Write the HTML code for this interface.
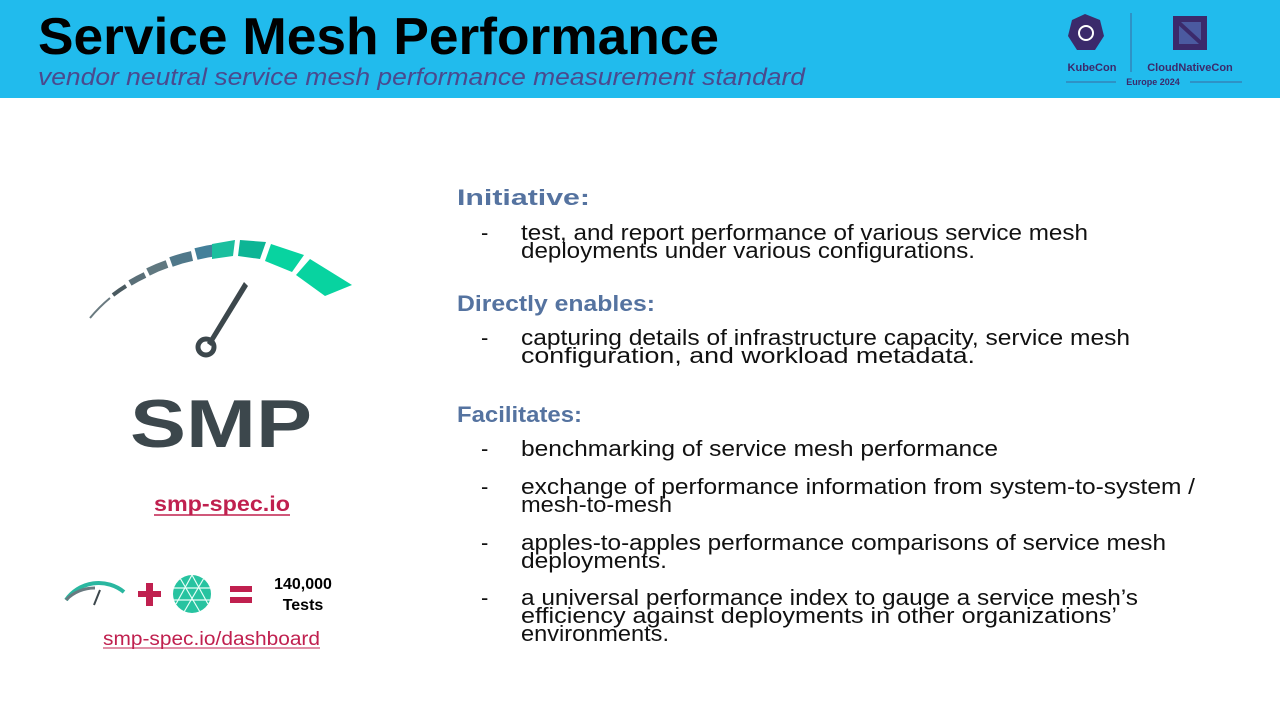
<!DOCTYPE html>
<html><head><meta charset="utf-8"><style>
html,body{margin:0;padding:0;background:#fff;}
svg{display:block}
text{font-family:"Liberation Sans",sans-serif;}
</style></head><body>
<svg width="1280" height="720" viewBox="0 0 1280 720" xmlns="http://www.w3.org/2000/svg">
<rect x="0" y="0" width="1280" height="98" fill="#21bbed"/>
<text x="38" y="54" font-size="52" font-weight="bold" fill="#000" textLength="681" lengthAdjust="spacingAndGlyphs">Service Mesh Performance</text>
<text x="38" y="85" font-size="24" font-style="italic" fill="#4a4a8e" textLength="767" lengthAdjust="spacingAndGlyphs">vendor neutral service mesh performance measurement standard</text>
<g fill="#3b2a6b">
<polygon points="1085,14 1100,20 1104,36 1095,50 1077,50 1068,36 1072,20"/>
<rect x="1173" y="16" width="34" height="34" fill="#3b2a6b"/>
<rect x="1179" y="22" width="22" height="22" fill="#4b5aa0"/>
<line x1="1178" y1="22" x2="1202" y2="44" stroke="#3b2a6b" stroke-width="4"/>
<text x="1092" y="71" font-size="11" font-weight="bold" text-anchor="middle">KubeCon</text>
<text x="1190" y="71" font-size="11" font-weight="bold" text-anchor="middle">CloudNativeCon</text>
<text x="1153" y="85" font-size="9" font-weight="bold" text-anchor="middle">Europe 2024</text>
</g>
<circle cx="1086" cy="33" r="7" fill="none" stroke="#fff" stroke-width="2"/>
<line x1="1131" y1="13" x2="1131" y2="72" stroke="#3b6aa0" stroke-width="1"/>
<line x1="1066" y1="82" x2="1116" y2="82" stroke="#3b6aa0" stroke-width="1"/>
<line x1="1190" y1="82" x2="1242" y2="82" stroke="#3b6aa0" stroke-width="1"/>

<g fill="none">
<path d="M90,318 A155,155 0 0 1 110,298" stroke="#6a7a80" stroke-width="2"/>
<path d="M113,295 A155,155 0 0 1 126,286" stroke="#4a5a60" stroke-width="4"/>
<path d="M130,283 A155,155 0 0 1 145,275" stroke="#5a6f78" stroke-width="6"/>
<path d="M148,272 A155,155 0 0 1 167,264" stroke="#607880" stroke-width="8"/>
<path d="M171,262 A155,155 0 0 1 192,256" stroke="#50788a" stroke-width="10"/>
<path d="M196,254 A155,155 0 0 1 217,250" stroke="#43809a" stroke-width="12"/>
</g>
<polygon points="212,244 235,240 233,256 212,259" fill="#1bbf9e"/>
<polygon points="240,240 266,242 260,259 238,256" fill="#0db595"/>
<polygon points="271,244 304,255 292,272 265,261" fill="#08d3a0"/>
<polygon points="310,259 352,285 325,296 296,275" fill="#08d3a0"/>
<polygon points="244,282 248,286 211,346 207,343" fill="#3c474c"/>
<circle cx="206" cy="347" r="8" fill="none" stroke="#3c474c" stroke-width="5"/>
<text x="130" y="447" font-size="68" font-weight="bold" fill="#3c474c" textLength="182" lengthAdjust="spacingAndGlyphs">SMP</text>

<text x="154" y="511" font-size="21" font-weight="bold" fill="#c0204f" textLength="136" lengthAdjust="spacingAndGlyphs">smp-spec.io</text>
<line x1="154" y1="515" x2="290" y2="515" stroke="#c0204f" stroke-width="1.5"/>

<path d="M66,600 A40,40 0 0 1 124,592" fill="none" stroke="#2ab7a0" stroke-width="4"/>
<path d="M66,600 A40,40 0 0 1 95,588" fill="none" stroke="#6a7a80" stroke-width="3"/>
<line x1="100" y1="590" x2="94" y2="605" stroke="#3c474c" stroke-width="2"/>
<rect x="138" y="591" width="23" height="6" fill="#c0204f"/>
<rect x="146" y="583" width="7" height="23" fill="#c0204f"/>
<circle cx="192" cy="594" r="19" fill="#27c3a0"/>
<g stroke="#e8fff8" stroke-width="1.2">
<line x1="174" y1="588" x2="210" y2="588"/><line x1="174" y1="600" x2="210" y2="600"/>
<line x1="180" y1="578" x2="200" y2="612"/><line x1="192" y1="575" x2="208" y2="604"/>
<line x1="204" y1="578" x2="184" y2="612"/><line x1="192" y1="575" x2="176" y2="604"/>
</g>
<rect x="230" y="586" width="22" height="6" fill="#c0204f"/>
<rect x="230" y="597" width="22" height="6" fill="#c0204f"/>
<text x="303" y="589" font-size="16" font-weight="bold" text-anchor="middle" fill="#000">140,000</text>
<text x="303" y="610" font-size="16" font-weight="bold" text-anchor="middle" fill="#000">Tests</text>
<text x="103" y="645" font-size="19" fill="#c0204f" textLength="217" lengthAdjust="spacingAndGlyphs">smp-spec.io/dashboard</text>
<line x1="103" y1="648" x2="320" y2="648" stroke="#c0204f" stroke-width="1"/>

<g font-size="22" font-weight="bold" fill="#5573a0">
<text x="457" y="205" textLength="133" lengthAdjust="spacingAndGlyphs">Initiative:</text>
<text x="457" y="311" textLength="198" lengthAdjust="spacingAndGlyphs">Directly enables:</text>
<text x="457" y="422" textLength="125" lengthAdjust="spacingAndGlyphs">Facilitates:</text>
</g>
<g font-size="22" fill="#111">
<text x="481" y="240">-</text>
<text x="521" y="240" textLength="567" lengthAdjust="spacingAndGlyphs">test, and report performance of various service mesh</text>
<text x="521" y="258" textLength="454" lengthAdjust="spacingAndGlyphs">deployments under various configurations.</text>
<text x="481" y="345">-</text>
<text x="521" y="345" textLength="609" lengthAdjust="spacingAndGlyphs">capturing details of infrastructure capacity, service mesh</text>
<text x="521" y="363" textLength="454" lengthAdjust="spacingAndGlyphs">configuration, and workload metadata.</text>
<text x="481" y="456">-</text>
<text x="521" y="456" textLength="477" lengthAdjust="spacingAndGlyphs">benchmarking of service mesh performance</text>
<text x="481" y="494">-</text>
<text x="521" y="494" textLength="674" lengthAdjust="spacingAndGlyphs">exchange of performance information from system-to-system /</text>
<text x="521" y="512" textLength="151" lengthAdjust="spacingAndGlyphs">mesh-to-mesh</text>
<text x="481" y="550">-</text>
<text x="521" y="550" textLength="645" lengthAdjust="spacingAndGlyphs">apples-to-apples performance comparisons of service mesh</text>
<text x="521" y="568" textLength="146" lengthAdjust="spacingAndGlyphs">deployments.</text>
<text x="481" y="605">-</text>
<text x="521" y="605" textLength="617" lengthAdjust="spacingAndGlyphs">a universal performance index to gauge a service mesh’s</text>
<text x="521" y="623" textLength="596" lengthAdjust="spacingAndGlyphs">efficiency against deployments in other organizations’</text>
<text x="521" y="641" textLength="148" lengthAdjust="spacingAndGlyphs">environments.</text>
</g>
</svg>
</body></html>
